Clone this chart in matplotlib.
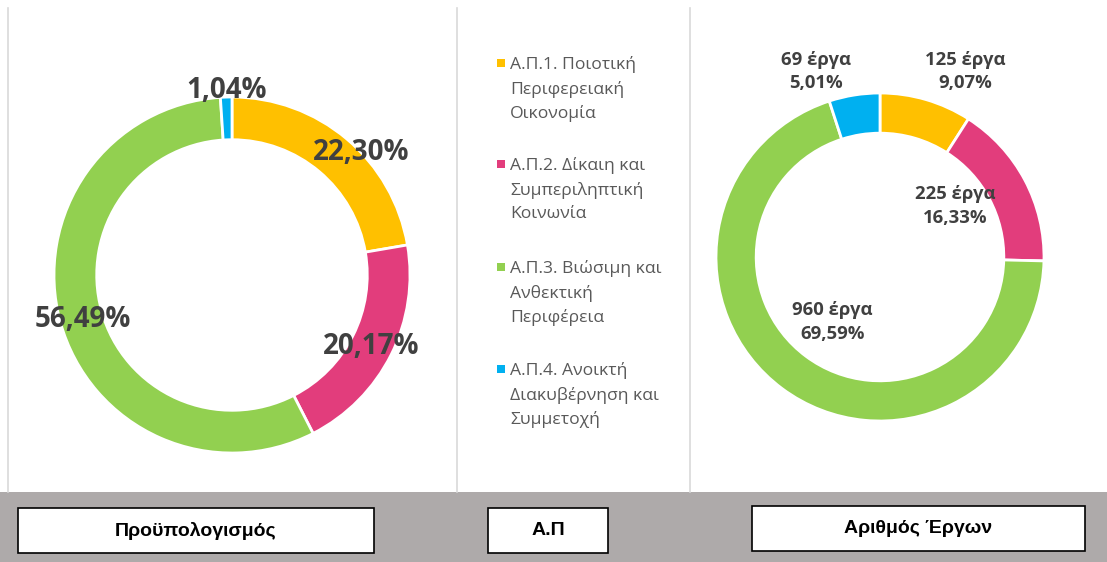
import matplotlib
matplotlib.use("Agg")
import matplotlib.pyplot as plt
from matplotlib.patches import Rectangle
from matplotlib.lines import Line2D

plt.rcParams['font.family'] = ['Open Sans', 'DejaVu Sans']

W, H = 1107, 562

categories = ["Α.Π.1. Ποιοτική\nΠεριφερειακή\nΟικονομία",
              "Α.Π.2. Δίκαιη και\nΣυμπεριληπτική\nΚοινωνία",
              "Α.Π.3. Βιώσιμη και\nΑνθεκτική\nΠεριφέρεια",
              "Α.Π.4. Ανοικτή\nΔιακυβέρνηση και\nΣυμμετοχή"]
colors = ["#FFC000", "#E23D7C", "#92D050", "#00B0F0"]

budget_pct = [22.30, 20.17, 56.49, 1.04]
budget_labels = ["22,30%", "20,17%", "56,49%", "1,04%"]

projects = [125, 225, 960, 69]
projects_pct_labels = ["9,07%", "16,33%", "69,59%", "5,01%"]

panel_titles = ["Προϋπολογισμός", "Α.Π", "Αριθμός Έργων"]

fig = plt.figure(figsize=(W / 100, H / 100), dpi=100)
fig.patch.set_facecolor("white")

def px_axes(x0, y0, x1, y1, **kw):
    return fig.add_axes([x0 / W, 1 - y1 / H, (x1 - x0) / W, (y1 - y0) / H], **kw)

# background overlay axes in pixel coords
bg = px_axes(0, 0, W, H)
bg.set_xlim(0, W)
bg.set_ylim(H, 0)
bg.axis("off")
bg.add_patch(Rectangle((0, 492), W, H - 492, facecolor="#AEAAAA", edgecolor="none"))
for x in (8, 457, 690):
    bg.add_line(Line2D([x, x], [8, 492], color="#D9D9D9", lw=1.2))
boxes = [(18, 508, 374, 553), (488, 508, 608, 553), (752, 506, 1085, 551)]
for (x0, y0, x1, y1), t in zip(boxes, panel_titles):
    bg.add_patch(Rectangle((x0, y0), x1 - x0, y1 - y0, facecolor="white",
                           edgecolor="black", lw=1.2))
    bg.text((x0 + x1) / 2, (y0 + y1) / 2, t, ha="center", va="center",
            fontsize=14, fontweight="bold", color="black",
            family=['Liberation Sans', 'DejaVu Sans'])

# left donut
cx, cy, R = 232, 275, 178
ax1 = px_axes(cx - R, cy - R, cx + R, cy + R)
ax1.pie(budget_pct, colors=colors, startangle=90, counterclock=False, radius=1,
        wedgeprops=dict(width=0.24, edgecolor="white", linewidth=2))
ax1.set_xlim(-1, 1); ax1.set_ylim(-1, 1)
ax1.axis("off")
pos1 = [(0.725, 0.69), (0.78, -0.40), (-0.84, -0.25), (-0.03, 1.035)]
for (x, y), t in zip(pos1, budget_labels):
    ax1.text(x, y, t, ha="center", va="center", fontsize=20, fontweight="bold",
             color="#404040", clip_on=False)

# right donut
cx, cy, R = 880, 257, 164
ax2 = px_axes(cx - R, cy - R, cx + R, cy + R)
ax2.pie(projects, colors=colors, startangle=90, counterclock=False, radius=1,
        wedgeprops=dict(width=0.245, edgecolor="white", linewidth=2))
ax2.set_xlim(-1, 1); ax2.set_ylim(-1, 1)
ax2.axis("off")
pos2 = [(0.52, 1.13), (0.46, 0.31), (-0.29, -0.395), (-0.39, 1.13)]
for (x, y), n, p in zip(pos2, projects, projects_pct_labels):
    ax2.text(x, y, f"{n} έργα\n{p}", ha="center", va="center", fontsize=13.3,
             fontweight="bold", color="#404040", linespacing=1.4, clip_on=False)

# legend
leg_y = [63, 164, 267, 369]
for y, c, t in zip(leg_y, colors, categories):
    bg.add_patch(Rectangle((497, y - 4), 8, 8, facecolor=c, edgecolor="none"))
    bg.text(510, y - 7, t, ha="left", va="top", fontsize=12.6, color="#595959",
            linespacing=1.58)

fig.savefig("out.png", dpi=100)
